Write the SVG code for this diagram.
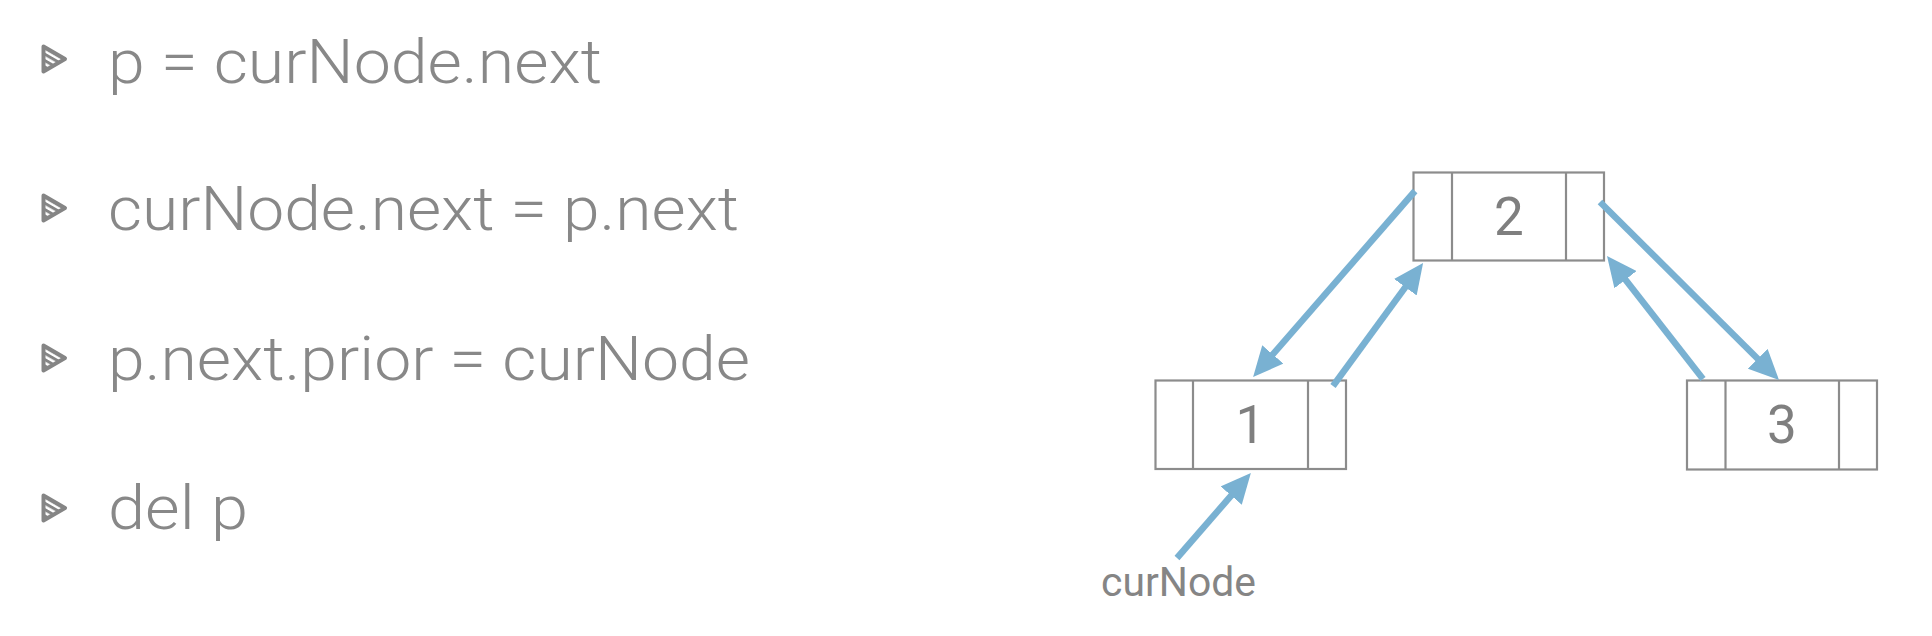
<svg xmlns="http://www.w3.org/2000/svg" width="1932" height="636" viewBox="0 0 1932 636">
  <style>
    .line-text { font-family: Roboto, "Liberation Sans", sans-serif; font-weight: 300; font-size: 62px; fill: #888888; }
    .label { font-family: Roboto, "Liberation Sans", sans-serif; font-weight: 400; font-size: 40px; fill: #858585; }
    .digit { font-family: Roboto, "Liberation Sans", sans-serif; font-weight: 400; font-size: 53px; fill: #7f7f7f; text-anchor: middle; }
    .cell { fill: #ffffff; stroke: #8c8c8c; stroke-width: 2.2; }
    .div { stroke: #8c8c8c; stroke-width: 2.2; }
    .conn { stroke: #79b1d2; stroke-width: 6.5; fill: none; marker-end: url(#arrow); }
    .bullet { fill: url(#hatch); stroke: #858585; stroke-width: 4; stroke-linejoin: round; }
  </style>
  <defs>
    <marker id="arrow" markerUnits="userSpaceOnUse" markerWidth="30" markerHeight="28" refX="18" refY="14" orient="auto">
      <path d="M0,0 L30,14 L0,28 z" fill="#79b1d2"/>
    </marker>
    <pattern id="hatch" patternUnits="userSpaceOnUse" width="5.5" height="5.5" patternTransform="rotate(30)">
      <rect width="5.5" height="5.5" fill="#ffffff"/>
      <rect width="5.5" height="3" fill="#858585"/>
    </pattern>
    <path id="tri" d="M2.5,2.5 L24,15 L2.5,27.5 z"/>
  </defs>
  <rect width="1932" height="636" fill="#ffffff"/>

  <g id="steps">
    <g id="step1">
      <use href="#tri" class="bullet" transform="translate(41,44)"/>
      <text class="line-text" x="108" y="83" textLength="494" lengthAdjust="spacingAndGlyphs">p = curNode.next</text>
    </g>
    <g id="step2">
      <use href="#tri" class="bullet" transform="translate(41,193)"/>
      <text class="line-text" x="108" y="230" textLength="631" lengthAdjust="spacingAndGlyphs">curNode.next = p.next</text>
    </g>
    <g id="step3">
      <use href="#tri" class="bullet" transform="translate(41,343)"/>
      <text class="line-text" x="108" y="380" textLength="642" lengthAdjust="spacingAndGlyphs">p.next.prior = curNode</text>
    </g>
    <g id="step4">
      <use href="#tri" class="bullet" transform="translate(41,493)"/>
      <text class="line-text" x="108" y="529" textLength="140" lengthAdjust="spacingAndGlyphs">del p</text>
    </g>
  </g>

  <g id="node1">
    <rect class="cell" x="1155.5" y="380.5" width="190.5" height="88.5"/>
    <line class="div" x1="1193" y1="380.5" x2="1193" y2="469"/>
    <line class="div" x1="1308" y1="380.5" x2="1308" y2="469"/>
    <text class="digit" x="1250.5" y="443">1</text>
  </g>
  <g id="node2">
    <rect class="cell" x="1413.5" y="172.5" width="190.5" height="88"/>
    <line class="div" x1="1452" y1="172.5" x2="1452" y2="260.5"/>
    <line class="div" x1="1566" y1="172.5" x2="1566" y2="260.5"/>
    <text class="digit" x="1509" y="235">2</text>
  </g>
  <g id="node3">
    <rect class="cell" x="1687" y="380.5" width="190" height="89"/>
    <line class="div" x1="1725.5" y1="380.5" x2="1725.5" y2="469.5"/>
    <line class="div" x1="1839" y1="380.5" x2="1839" y2="469.5"/>
    <text class="digit" x="1782" y="443">3</text>
  </g>
  <g id="curNode-label">
    <text class="label" x="1101" y="596" textLength="155" lengthAdjust="spacingAndGlyphs">curNode</text>
  </g>

  <g id="connectors">
    <line class="conn" x1="1415" y1="191" x2="1261" y2="368"/>
    <line class="conn" x1="1333" y1="386" x2="1416" y2="272.7"/>
    <line class="conn" x1="1600" y1="202" x2="1770.5" y2="371.5"/>
    <line class="conn" x1="1703" y1="379" x2="1614.4" y2="265.5"/>
    <line class="conn" x1="1177" y1="558" x2="1243" y2="482"/>
  </g>
</svg>
